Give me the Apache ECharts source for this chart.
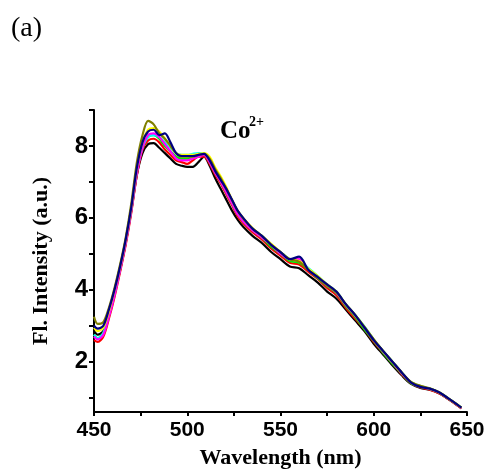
<!DOCTYPE html>
<html><head><meta charset="utf-8">
<script src="https://cdn.jsdelivr.net/npm/echarts@6/dist/echarts.min.js"></script>
<style>html,body{margin:0;padding:0;background:#fff}#c{width:490px;height:472px}</style>
</head><body><div id="c"></div>
<script>
const wavelengths = [450,452,455,458,461,464,467,470,473,476,479,482,485,488,491,494,497,500,503,506,509,512,515,518,521,524,527,530,535,540,545,550,555,560,565,570,575,580,585,590,595,600,605,610,615,620,625,630,635,640,645,647];
const seriesNames = ['black','red','green','cyan','magenta','yellow','olive','navy'];
const seriesColors = ['#000000','#ff0000','#00ee00','#00ffff','#ff00ff','#ffff00','#808000','#000080'];
const blackVals  = [2.85,2.75,2.85,3.3,3.9,4.55,5.3,6.2,7.2,7.8,8.05,8.08,7.95,7.8,7.65,7.5,7.45,7.42,7.42,7.55,7.7,7.45,7.1,6.8,6.5,6.2,5.95,5.75,5.5,5.3,5.05,4.85,4.65,4.6,4.4,4.2,3.95,3.75,3.45,3.15,2.85,2.5,2.2,1.9,1.62,1.38,1.27,1.22,1.12,0.96,0.78,0.7];
const redVals    = [2.6,2.55,2.7,3.2,3.8,4.5,5.25,6.15,7.2,7.9,8.15,8.2,8.1,7.9,7.75,7.6,7.55,7.5,7.6,7.7,7.7,7.5,7.2,6.95,6.65,6.35,6.05,5.85,5.6,5.4,5.15,4.95,4.75,4.7,4.5,4.3,4.05,3.85,3.5,3.2,2.9,2.55,2.25,1.95,1.65,1.4,1.28,1.22,1.12,0.96,0.78,0.7];
const greenVals  = [2.75,2.65,2.8,3.3,3.9,4.6,5.35,6.25,7.3,7.95,8.25,8.3,8.2,8.0,7.85,7.7,7.65,7.65,7.7,7.75,7.75,7.55,7.25,7.0,6.7,6.4,6.1,5.9,5.65,5.45,5.2,5.0,4.8,4.75,4.55,4.32,4.1,3.9,3.55,3.25,2.9,2.58,2.25,1.95,1.67,1.4,1.3,1.24,1.14,0.97,0.8,0.72];
const cyanVals   = [2.75,2.65,2.8,3.3,3.9,4.6,5.35,6.25,7.3,7.95,8.25,8.3,8.25,8.1,7.95,7.8,7.75,7.75,7.78,7.8,7.8,7.6,7.3,7.05,6.75,6.45,6.15,5.95,5.7,5.5,5.25,5.05,4.85,4.8,4.6,4.38,4.15,3.95,3.6,3.3,2.98,2.62,2.3,2.0,1.7,1.43,1.32,1.25,1.15,0.98,0.8,0.72];
const magentaVals= [2.7,2.62,2.75,3.25,3.85,4.55,5.3,6.2,7.25,7.95,8.3,8.35,8.25,8.05,7.85,7.65,7.6,7.6,7.65,7.7,7.75,7.55,7.25,7.0,6.7,6.4,6.1,5.9,5.65,5.45,5.25,5.0,4.85,4.85,4.55,4.35,4.12,3.92,3.58,3.28,2.95,2.6,2.28,1.98,1.68,1.42,1.3,1.24,1.14,0.97,0.79,0.71];
const yellowVals = [2.95,2.85,2.95,3.4,4.0,4.65,5.4,6.3,7.4,8.1,8.45,8.5,8.4,8.2,8.0,7.8,7.75,7.75,7.75,7.78,7.8,7.7,7.4,7.15,6.85,6.5,6.2,6.0,5.72,5.5,5.28,5.05,4.85,4.8,4.58,4.38,4.15,3.95,3.6,3.3,2.97,2.62,2.3,2.0,1.7,1.43,1.32,1.25,1.15,0.98,0.8,0.72];
const oliveVals  = [3.25,3.05,3.1,3.5,4.05,4.7,5.45,6.4,7.55,8.3,8.7,8.6,8.35,8.2,8.0,7.8,7.7,7.7,7.7,7.75,7.78,7.65,7.35,7.1,6.8,6.5,6.2,5.98,5.7,5.5,5.25,5.05,4.85,4.78,4.55,4.35,4.12,3.93,3.6,3.3,2.97,2.62,2.3,2.0,1.7,1.44,1.33,1.26,1.15,0.98,0.8,0.72];
const navyVals   = [3.0,2.92,3.0,3.45,4.0,4.65,5.4,6.3,7.4,8.1,8.4,8.45,8.3,8.35,8.1,7.8,7.72,7.72,7.72,7.75,7.78,7.6,7.3,7.05,6.8,6.5,6.2,6.0,5.7,5.5,5.25,5.05,4.85,4.92,4.55,4.35,4.15,3.95,3.6,3.3,2.95,2.6,2.3,2.0,1.7,1.42,1.3,1.25,1.15,0.98,0.8,0.72];
const allVals = [blackVals,redVals,greenVals,cyanVals,magentaVals,yellowVals,oliveVals,navyVals];
const xTickValues = [450,475,500,525,550,575,600,625,650];
const xLabelValues = [450,500,550,600,650];
const yTickValues = [1,2,3,4,5,6,7,8,9];
const yLabelValues = [2,4,6,8];

const chart = echarts.init(document.getElementById('c'), null, {renderer:'canvas'});
const series = allVals.map((vals,i)=>({
  name: seriesNames[i], type:'line', smooth:0.3, symbol:'none',
  lineStyle:{color:seriesColors[i], width:2.2},
  data: wavelengths.map((w,j)=>[w, vals[j]]),
  z: 2+i
}));
chart.setOption({
  animation:false,
  grid:{left:94, right:23, top:110, bottom:60, containLabel:false, outerBoundsMode:'none'},
  xAxis:{type:'value', min:450, max:650,
    axisLine:{lineStyle:{color:'#000', width:2}},
    axisTick:{customValues:xTickValues, length:4, lineStyle:{color:'#000', width:2}},
    axisLabel:{customValues:xLabelValues, color:'#000', fontFamily:'Liberation Sans', fontWeight:'bold', fontSize:21, margin:8},
    splitLine:{show:false},
    name:'Wavelength (nm)', nameLocation:'middle', nameGap:35,
    nameTextStyle:{color:'#000', fontFamily:'Liberation Serif', fontWeight:'bold', fontSize:22}
  },
  yAxis:{type:'value', min:0.6, max:9,
    axisLine:{show:true, lineStyle:{color:'#000', width:2}},
    axisTick:{show:true, customValues:yTickValues, length:5, lineStyle:{color:'#000', width:2}},
    axisLabel:{customValues:yLabelValues, color:'#000', fontFamily:'Liberation Sans', fontWeight:'bold', fontSize:24, margin:6},
    splitLine:{show:false},
    name:'Fl. Intensity (a.u.)', nameLocation:'middle', nameGap:42,
    nameTextStyle:{color:'#000', fontFamily:'Liberation Serif', fontWeight:'bold', fontSize:22}
  },
  graphic:[
    {type:'text', style:{x:11, y:29, text:'(a)', textVerticalAlign:'middle', font:'28px "Liberation Serif"', fill:'#000'}},
    {type:'text', style:{x:220, y:132, text:'Co', textVerticalAlign:'middle', font:'bold 25px "Liberation Serif"', fill:'#000'}},
    {type:'text', style:{x:249, y:122, text:'2+', textVerticalAlign:'middle', font:'bold 14px "Liberation Serif"', fill:'#000'}}
  ],
  series: series
});
</script></body></html>
